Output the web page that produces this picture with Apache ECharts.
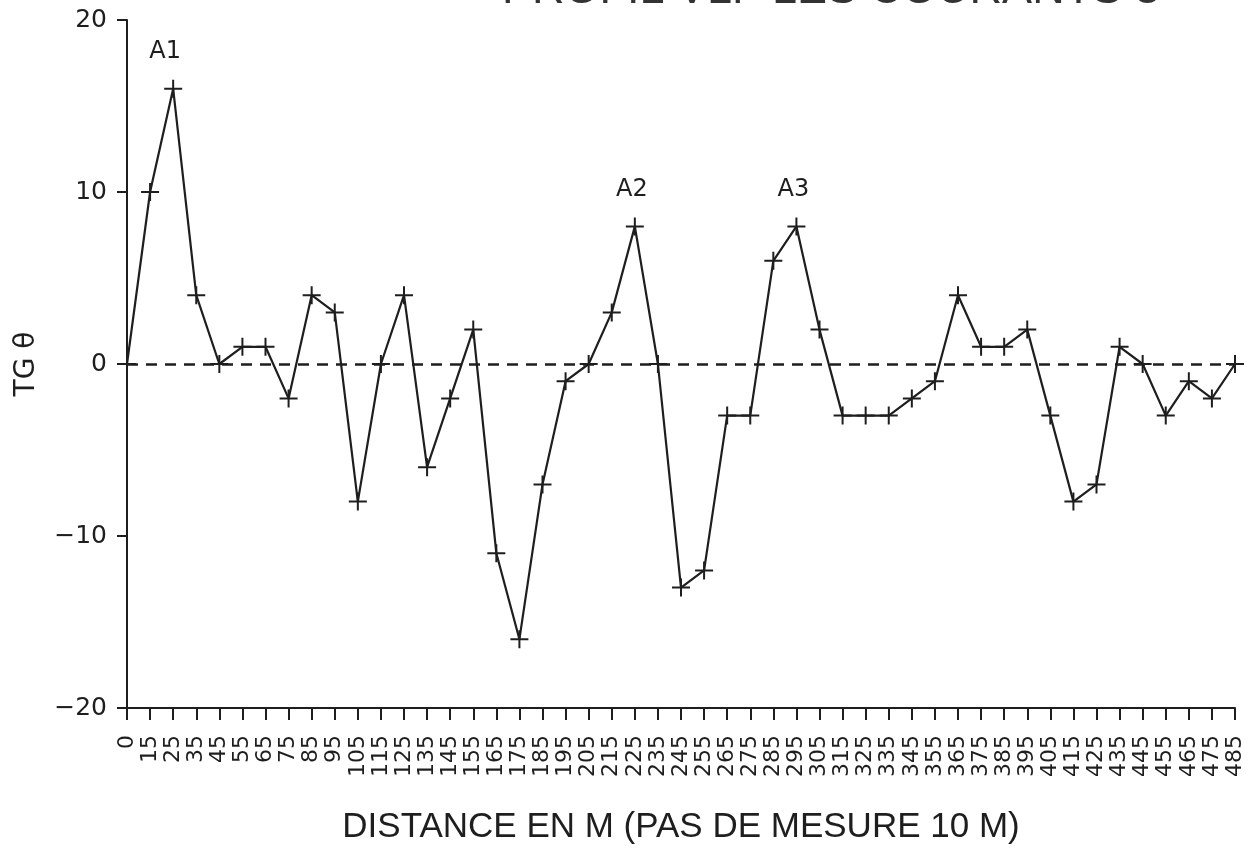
<!DOCTYPE html>
<html>
<head>
<meta charset="utf-8">
<script src="https://cdn.jsdelivr.net/npm/echarts@6/dist/echarts.min.js"></script>
<style>
  html, body { margin: 0; padding: 0; background: #fff; }
  #chart { width: 1249px; height: 856px; }
</style>
</head>
<body>
<div id="chart"></div>
<script>
// Station distances (m) along the profile
const distances = ['0', '15', '25', '35', '45', '55', '65', '75', '85', '95',
  '105', '115', '125', '135', '145', '155', '165', '175', '185', '195',
  '205', '215', '225', '235', '245', '255', '265', '275', '285', '295',
  '305', '315', '325', '335', '345', '355', '365', '375', '385', '395',
  '405', '415', '425', '435', '445', '455', '465', '475', '485'];

// Tangent of the tilt angle measured at each station
const tgTheta = [0, 10, 16, 4, 0, 1, 1, -2, 4, 3,
  -8, 0, 4, -6, -2, 2, -11, -16, -7, -1,
  0, 3, 8, 0, -13, -12, -3, -3, 6, 8,
  2, -3, -3, -3, -2, -1, 4, 1, 1, 2,
  -3, -8, -7, 1, 0, -3, -1, -2, 0];

// Anomalies marked on the profile
const anomalies = [
  { at: '25', text: 'A1', dx: -8 },
  { at: '225', text: 'A2', dx: -3 },
  { at: '295', text: 'A3', dx: -3 }
];

const yTicks = { min: -20, max: 20, step: 10 };

const ink = '#1e1e1e';
const font = 'DejaVu Sans';
// thin "+" cross drawn as a filled outline
const crossPath = 'path://M8,0H10V8H18V10H10V18H8V10H0V8H8Z';

const seriesData = tgTheta.map((v, i) => {
  const a = anomalies.find(x => x.at === distances[i]);
  if (!a) return v;
  return {
    value: v,
    label: {
      show: true,
      position: 'top',
      distance: 16,
      offset: [a.dx, 0],
      formatter: a.text,
      fontFamily: font,
      fontSize: 24,
      color: ink
    }
  };
});

const chart = echarts.init(document.getElementById('chart'), null, { renderer: 'canvas' });
chart.setOption({
  animation: false,
  backgroundColor: '#fff',
  title: {
    text: 'PROFIL VLF LES COURANTS 3',
    left: 497,
    top: -37,
    textStyle: { fontFamily: 'Liberation Sans', fontSize: 45, fontWeight: 'normal', color: '#333' }
  },
  grid: { left: 127, right: 14, top: 20, bottom: 148, containLabel: false },
  xAxis: {
    type: 'category',
    data: distances,
    boundaryGap: false,
    axisLine: { onZero: false, lineStyle: { color: ink, width: 2 } },
    axisTick: { show: true, interval: 0, length: 12, lineStyle: { color: ink, width: 2 } },
    axisLabel: { interval: 0, rotate: 90, margin: 27, fontFamily: font, fontSize: 22, color: ink },
    splitLine: { show: false },
    name: 'DISTANCE EN M (PAS DE MESURE 10 M)',
    nameLocation: 'middle',
    nameGap: 102,
    nameTextStyle: { fontFamily: 'Liberation Sans', fontSize: 35, color: ink }
  },
  yAxis: {
    type: 'value',
    min: yTicks.min,
    max: yTicks.max,
    interval: yTicks.step,
    axisLine: { show: true, lineStyle: { color: ink, width: 2 } },
    axisTick: { show: true, length: 10, lineStyle: { color: ink, width: 2 } },
    axisLabel: {
      margin: 20, fontFamily: font, fontSize: 25, color: ink,
      formatter: v => String(v).replace('-', '\u2212')
    },
    splitLine: { show: false },
    name: 'TG \u03B8',
    nameLocation: 'middle',
    nameGap: 86,
    nameTextStyle: { fontFamily: font, fontSize: 28, color: ink }
  },
  series: [{
    type: 'line',
    data: seriesData,
    showAllSymbol: true,
    symbol: crossPath,
    symbolSize: 18,
    lineStyle: { color: ink, width: 2.2 },
    itemStyle: { color: ink },
    markLine: {
      silent: true,
      symbol: 'none',
      label: { show: false },
      lineStyle: { color: ink, width: 2.5, type: [11, 8] },
      data: [{ yAxis: 0 }]
    }
  }]
});
</script>
</body>
</html>
